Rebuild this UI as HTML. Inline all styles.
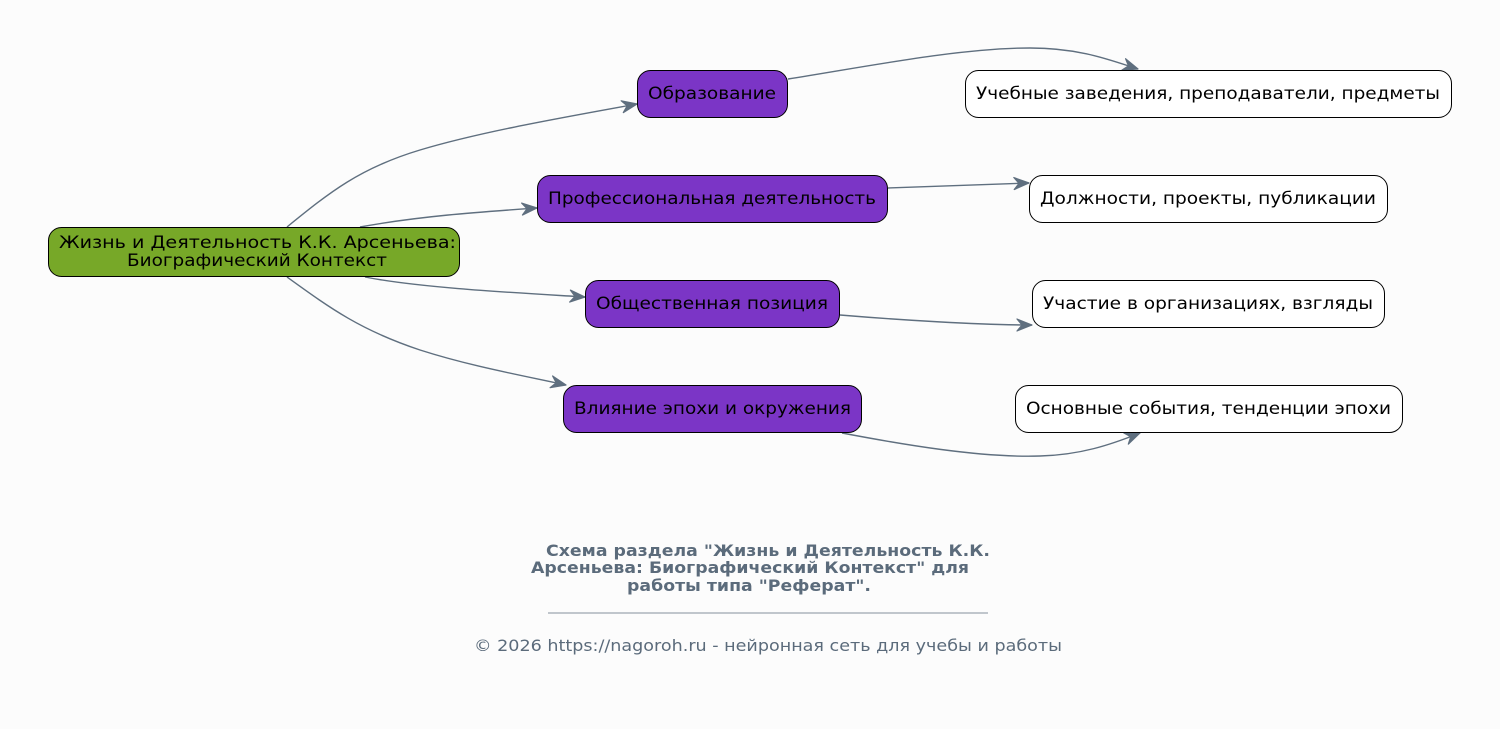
<!DOCTYPE html>
<html><head><meta charset="utf-8"><style>
html,body{margin:0;padding:0;background:#fcfcfc;}
svg{display:block;font-family:"DejaVu Sans","Liberation Sans",sans-serif;}
</style></head><body>
<svg width="1500" height="729" viewBox="0 0 1500 729" xmlns="http://www.w3.org/2000/svg">
<defs>
<marker id="a" markerWidth="18" markerHeight="14" refX="16" refY="7" orient="auto" markerUnits="userSpaceOnUse">
<path d="M1,1 L16,7 L1,13 L6,7 Z" fill="#5f6f7f" stroke="#5f6f7f" stroke-width="1.2" stroke-linejoin="round"/>
</marker>
</defs>
<rect width="1500" height="729" fill="#fcfcfc"/>
<g fill="none" stroke="#5f6f7f" stroke-width="1.4" marker-end="url(#a)">
<path d="M287,227 C330,192 360,168 420,150 C480,132 560,118 637,104"/>
<path d="M360,227 C420,216 480,212 537,208"/>
<path d="M365,277 C420,288 520,293 585,297"/>
<path d="M287,277 C330,308 360,330 420,350 C470,366 520,375 566,385"/>
<path d="M788,79 C870,66 960,48 1030,48 C1080,48 1110,60 1138,69"/>
<path d="M888,188 L1029,183"/>
<path d="M840,315 C900,320 980,325 1032,325"/>
<path d="M842,433 C900,444 980,458 1040,456 C1080,455 1110,445 1140,433"/>
</g>
<g stroke="#000" stroke-width="1">
<rect x="48.5" y="227.5" width="411" height="49" rx="13" fill="#77a828"/>
<rect x="637.5" y="70.5" width="150" height="47" rx="13" fill="#7b35c6"/>
<rect x="537.5" y="175.5" width="350" height="47" rx="13" fill="#7b35c6"/>
<rect x="585.5" y="280.5" width="254" height="47" rx="13" fill="#7b35c6"/>
<rect x="563.5" y="385.5" width="298" height="47" rx="13" fill="#7b35c6"/>
<rect x="965.5" y="70.5" width="486" height="47" rx="13" fill="#fff"/>
<rect x="1029.5" y="175.5" width="358" height="47" rx="13" fill="#fff"/>
<rect x="1032.5" y="280.5" width="352" height="47" rx="13" fill="#fff"/>
<rect x="1015.5" y="385.5" width="387" height="47" rx="13" fill="#fff"/>
</g>
<g font-size="17" fill="#000" lengthAdjust="spacingAndGlyphs">
<text x="59" y="248" textLength="397" lengthAdjust="spacingAndGlyphs">Жизнь и Деятельность К.К. Арсеньева:</text>
<text x="127" y="266" textLength="260" lengthAdjust="spacingAndGlyphs">Биографический Контекст</text>
<text x="648" y="99" textLength="128" lengthAdjust="spacingAndGlyphs">Образование</text>
<text x="548" y="204" textLength="328" lengthAdjust="spacingAndGlyphs">Профессиональная деятельность</text>
<text x="596" y="309" textLength="232" lengthAdjust="spacingAndGlyphs">Общественная позиция</text>
<text x="574" y="414" textLength="277" lengthAdjust="spacingAndGlyphs">Влияние эпохи и окружения</text>
<text x="976" y="99" textLength="464" lengthAdjust="spacingAndGlyphs">Учебные заведения, преподаватели, предметы</text>
<text x="1040" y="204" textLength="336" lengthAdjust="spacingAndGlyphs">Должности, проекты, публикации</text>
<text x="1043" y="309" textLength="330" lengthAdjust="spacingAndGlyphs">Участие в организациях, взгляды</text>
<text x="1026" y="414" textLength="365" lengthAdjust="spacingAndGlyphs">Основные события, тенденции эпохи</text>
</g>
<g font-size="16" font-weight="bold" fill="#5b6b7b">
<text x="546" y="556" textLength="444" lengthAdjust="spacingAndGlyphs">Схема раздела "Жизнь и Деятельность К.К.</text>
<text x="531" y="573" textLength="438" lengthAdjust="spacingAndGlyphs">Арсеньева: Биографический Контекст" для</text>
<text x="627" y="591" textLength="244" lengthAdjust="spacingAndGlyphs">работы типа "Реферат".</text>
</g>
<line x1="548" y1="613" x2="988" y2="613" stroke="#5b6b7b" stroke-width="0.8"/>
<text x="474" y="651" font-size="16" fill="#5b6b7b" textLength="588" lengthAdjust="spacingAndGlyphs">© 2026 https://nagoroh.ru - нейронная сеть для учебы и работы</text>
</svg>
</body></html>
